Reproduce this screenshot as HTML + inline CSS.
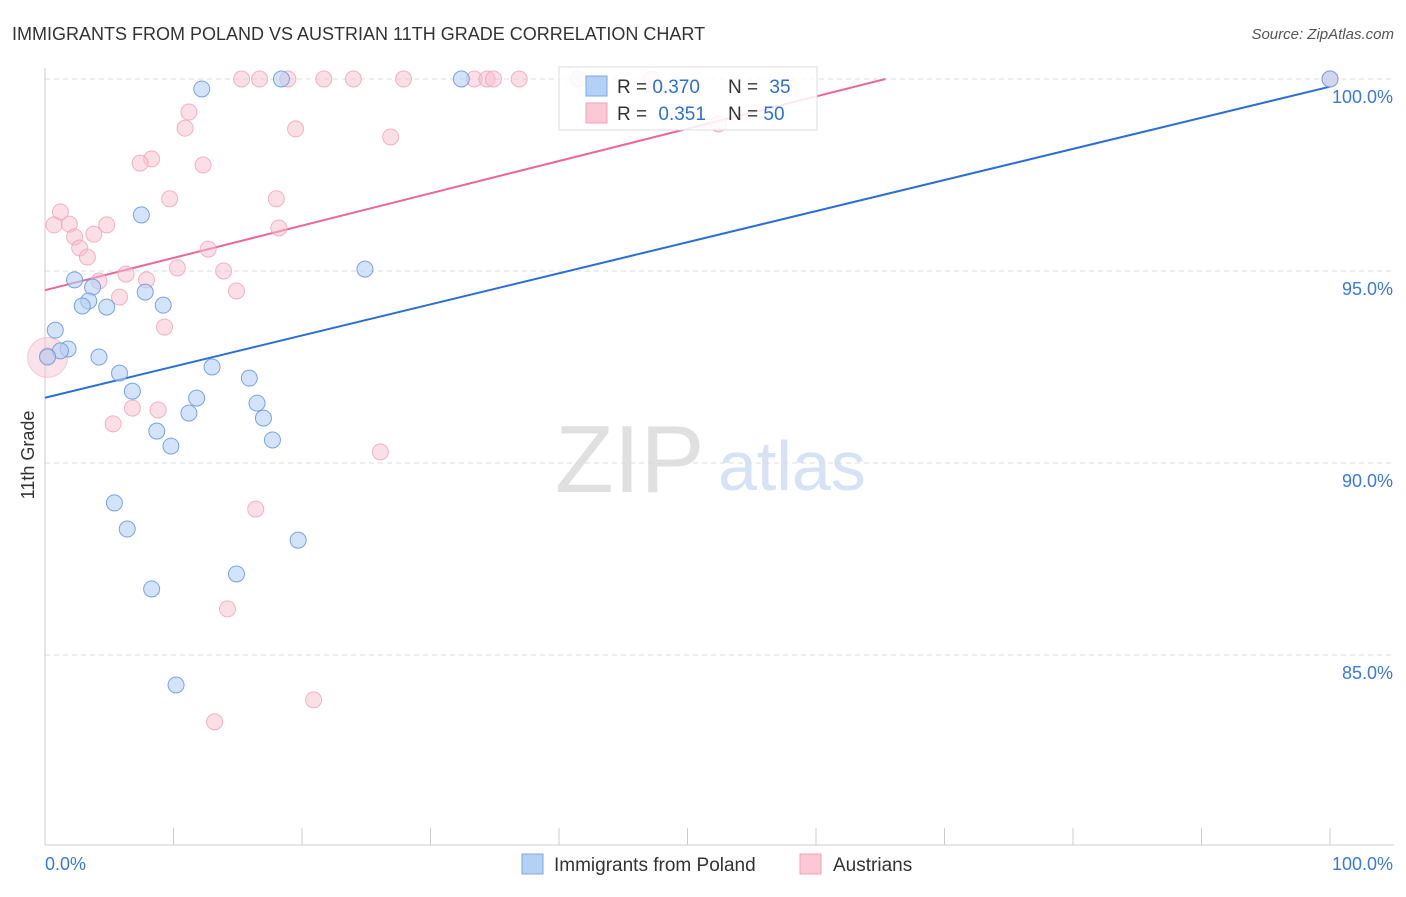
<!DOCTYPE html>
<html><head><meta charset="utf-8"><style>
body{margin:0;background:#fff;font-family:"Liberation Sans",sans-serif;}
svg text{font-family:"Liberation Sans",sans-serif;}
</style></head><body>
<svg id="chart" width="1406" height="892">
<text x="12" y="40" font-size="18" fill="#333">IMMIGRANTS FROM POLAND VS AUSTRIAN 11TH GRADE CORRELATION CHART</text>
<text x="1394" y="39" font-size="15" fill="#555" font-style="italic" text-anchor="end">Source: ZipAtlas.com</text>
<text x="34" y="455" font-size="18" fill="#333" transform="rotate(-90 34 455)" text-anchor="middle">11th Grade</text>
<text x="555" y="492" font-size="96" fill="#e0e0e0" font-family="Liberation Serif">ZIP</text>
<text x="718" y="490" font-size="70" fill="#d5e3f5">atlas</text>
<g id="grid"></g>
<g id="axes"></g>
<g id="lines"></g>
<g id="points"></g>
<g>
<rect x="559" y="67" width="258" height="63" fill="#fff" fill-opacity="0.85" stroke="#ddd"/>
<rect x="586" y="76" width="21" height="20" fill="#b5d0f5" stroke="#7fa8e0"/>
<rect x="586" y="103" width="21" height="20" fill="#fbc8d6" stroke="#f0a0b8"/>
<text x="617" y="93" font-size="19" fill="#333">R = <tspan fill="#2e6fd6">0.370</tspan></text>
<text x="728" y="93" font-size="19" fill="#333">N = <tspan fill="#2e6fd6" dx="6">35</tspan></text>
<text x="617" y="120" font-size="19" fill="#333">R = <tspan fill="#2e6fd6" dx="6">0.351</tspan></text>
<text x="728" y="120" font-size="19" fill="#333">N = <tspan fill="#2e6fd6">50</tspan></text>
</g>
<g>
<rect x="522" y="854" width="21" height="20" fill="#b5d0f5" stroke="#7fa8e0"/>
<text x="554" y="871" font-size="19" fill="#333">Immigrants from Poland</text>
<rect x="800" y="854" width="21" height="20" fill="#fbc8d6" stroke="#f0a0b8"/>
<text x="833" y="871" font-size="19" fill="#333">Austrians</text>
</g>
</svg>
<script>
const yTicks=[100,95,90,85];
const yTickLabels=["100.0%","95.0%","90.0%","85.0%"];
const blueX=[12.2,18.4,32.4,100,7.5,24.9,2.3,3.7,3.4,2.9,4.8,7.8,9.2,0.8,1.8,1.2,4.2,0.2,5.8,13,15.9,6.8,11.8,11.2,16.5,17,8.7,9.8,17.7,5.4,6.4,19.7,8.3,14.9,10.2];
const blueY=[99.74,100,100,100,96.46,95.05,94.77,94.58,94.22,94.09,94.06,94.45,94.11,93.46,92.97,92.92,92.76,92.76,92.34,92.5,92.21,91.87,91.69,91.3,91.56,91.17,90.83,90.44,90.6,88.96,88.28,87.99,86.72,87.11,84.22];
const pinkX=[15.3,16.7,18.9,21.7,24,27.9,33.4,34.4,34.9,36.9,41.5,47.2,11.2,10.9,19.5,26.9,52.4,8.3,7.4,12.3,9.7,18,1.2,0.7,1.9,4.8,3.8,2.3,2.7,3.3,18.2,12.7,10.3,6.3,7.9,13.9,4.2,5.8,14.9,9.3,0.2,6.8,8.8,5.3,26.1,16.4,14.2,20.9,13.2,100];
const pinkY=[100,100,100,100,100,100,100,100,100,100,100,100,99.14,98.72,98.7,98.49,98.83,97.92,97.81,97.76,96.88,96.88,96.54,96.2,96.22,96.2,95.96,95.89,95.6,95.36,96.12,95.57,95.08,94.92,94.77,95,94.74,94.32,94.48,93.54,92.79,91.43,91.38,91.02,90.29,88.8,86.2,83.83,83.26,100];
const blueTrend=[91.7,99.8];
const pinkTrend=[94.5,100];
const pinkTrendEndX=65.4;
const NS="http://www.w3.org/2000/svg";
const xs=v=>45+v*12.85, ys=v=>79+(100-v)*38.4;
function mk(t,a,p){const e=document.createElementNS(NS,t);for(const k in a)e.setAttribute(k,a[k]);p.appendChild(e);return e;}
const grid=document.getElementById('grid'),axes=document.getElementById('axes');
yTicks.forEach((t,i)=>{
 const l=mk('line',{x1:45,x2:1394,y1:ys(t),y2:ys(t),stroke:'#ddd','stroke-dasharray':'5,4'},grid);
 
 
 const tx=mk('text',{x:1393,y:ys(t)+24,'font-size':18,fill:'#3b78d8','text-anchor':'end'},grid);
 tx.textContent=yTickLabels[i];
 
 
});
const ya=mk('line',{x1:45,x2:45,y1:68,y2:845,stroke:'#ccc'},axes);


const xa=mk('line',{x1:45,x2:1394,y1:845,y2:845,stroke:'#ccc'},axes);


for(let i=0;i<=10;i++){const t=mk('line',{x1:xs(i*10),x2:xs(i*10),y1:828,y2:845,stroke:'#ccc'},axes);
 
 }
[["0.0%",45,'start'],["100.0%",1393,'end']].forEach(a=>{const t=mk('text',{x:a[1],y:870,'font-size':18,fill:'#3b78d8','text-anchor':a[2]},axes);t.textContent=a[0];
 
 });
const pts=document.getElementById('points');
const big=mk('circle',{cx:xs(0.2),cy:ys(92.75),r:20,fill:'#f7bfd0','fill-opacity':0.45,stroke:'#f0a0b8','stroke-opacity':0.5},pts);


pinkX.forEach((x,i)=>{const c=mk('circle',{cx:xs(x),cy:ys(pinkY[i]),r:8,fill:'#f7bfd0','fill-opacity':0.5,stroke:'#f0a0b8','stroke-opacity':0.8},pts);
 
 });
blueX.forEach((x,i)=>{const c=mk('circle',{cx:xs(x),cy:ys(blueY[i]),r:8,fill:'#b5d0f5','fill-opacity':0.6,stroke:'#6b9be0','stroke-opacity':0.9},pts);
 
 });
const ln=document.getElementById('lines');
const bl=mk('line',{x1:xs(0),y1:ys(blueTrend[0]),x2:xs(100),y2:ys(blueTrend[1]),stroke:'#2a6fd6','stroke-width':2},ln);


const pl=mk('line',{x1:xs(0),y1:ys(pinkTrend[0]),x2:xs(pinkTrendEndX),y2:ys(pinkTrend[1]),stroke:'#e8689a','stroke-width':2},ln);


</script>
</body></html>
